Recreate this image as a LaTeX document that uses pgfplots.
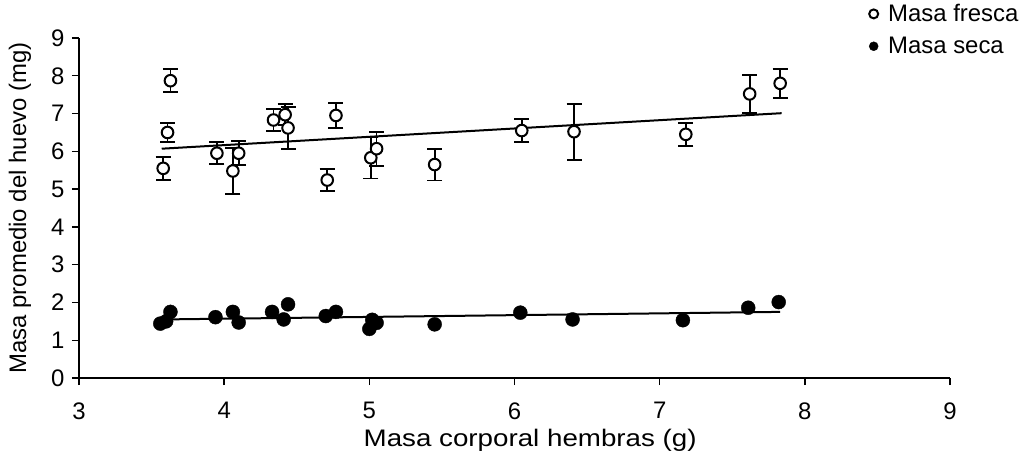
\documentclass[border=0pt]{standalone}
\usepackage{pgfplots}
\pgfplotsset{compat=1.18}
\usepackage{pgfplotstable}
\usepackage{fontspec}
\setmainfont{Liberation Sans}
\pgfplotstableread{
x y e
3.58 5.55 0.30
3.61 6.50 0.25
3.63 7.87 0.30
3.95 5.95 0.29
4.06 5.48 0.60
4.10 5.95 0.32
4.34 6.83 0.30
4.42 6.97 0.28
4.44 6.62 0.55
4.71 5.24 0.30
4.77 6.95 0.33
5.01 5.83 0.55
5.05 6.07 0.45
5.45 5.65 0.42
6.05 6.55 0.30
6.41 6.52 0.74
7.18 6.45 0.30
7.62 7.52 0.50
7.83 7.80 0.39
}\fresca
\pgfplotstableread{
x y
3.56 1.44
3.60 1.50
3.63 1.75
3.94 1.61
4.06 1.75
4.10 1.47
4.33 1.75
4.41 1.55
4.44 1.95
4.70 1.64
4.77 1.75
5.00 1.30
5.02 1.54
5.05 1.46
5.45 1.42
6.04 1.73
6.40 1.55
7.16 1.53
7.61 1.86
7.82 2.01
}\seca
\begin{document}
\begin{tikzpicture}
\begin{axis}[
  scale only axis, width=871bp, height=340bp,
  xmin=3, xmax=9, ymin=0, ymax=9,
  xtick={3,4,5,6,7,8,9}, ytick={0,1,2,3,4,5,6,7,8,9},
  axis x line*=bottom, axis y line*=left,
  axis line style={line width=1.6bp, -},
  tick align=outside, major tick length=7bp,
  tick style={line width=1.4bp, black},
  font=\fontsize{24}{28}\selectfont,
  tick label style={font=\fontsize{24}{28}\selectfont},
  xticklabel style={yshift=-14bp},
  yticklabel style={xshift=-4bp},
  /pgf/number format/assume math mode=true,
  xlabel={Masa corporal hembras (g)},
  ylabel={Masa promedio del huevo (mg)},
  every axis x label/.style={at={(axis description cs:0.518,-0.182)}, anchor=center, xscale=1.16, font=\fontsize{24}{28}\selectfont},
  every axis y label/.style={at={(axis description cs:-0.0677,0.5)}, rotate=90, anchor=center, font=\fontsize{24}{28}\selectfont},
  legend style={draw=none, fill=none, at={(axis description cs:0.907,1.105)}, anchor=north west,
    font=\fontsize{24}{28}\selectfont, row sep=10bp, column sep=8bp, inner sep=0pt},
  legend cell align=left,
  legend image code/.code={\draw[#1, mark size=4.5bp] plot coordinates {(0bp,0bp)};},
  clip=false,
]
\addplot[black, line width=2bp, forget plot] coordinates {(3.57,6.07) (7.84,7.01)};
\addplot[black, line width=2bp, forget plot] coordinates {(3.58,1.55) (7.83,1.75)};
\addplot[only marks, mark=*, mark size=5.8bp,
  mark options={fill=white, draw=black, line width=2bp},
  error bars/.cd, y dir=both, y explicit,
  error bar style={line width=1.8bp, black},
  error mark options={line width=1.8bp, mark size=7.5bp, rotate=90, black}]
  table[x=x, y=y, y error=e] {\fresca};
\addlegendentry{Masa fresca}
\addplot[only marks, mark=*, mark size=7bp, mark options={fill=black, draw=black}]
  table[x=x, y=y] {\seca};
\addlegendentry{Masa seca}
\end{axis}
\path[use as bounding box] (-79bp,-89bp) rectangle (943bp,378bp);
\end{tikzpicture}
\end{document}
